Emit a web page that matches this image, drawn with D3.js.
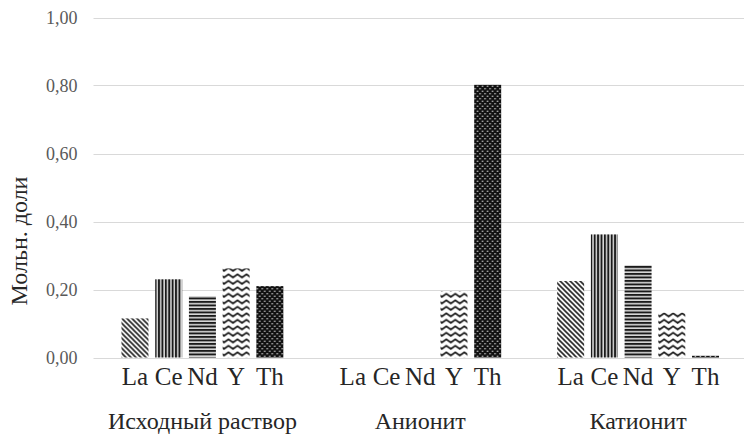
<!DOCTYPE html>
<html>
<head>
<meta charset="utf-8">
<script src="https://cdn.jsdelivr.net/npm/d3@7"></script>
<style>
  html, body { margin: 0; padding: 0; background: #fff; }
  svg { display: block; }
  svg text { font-family: "Liberation Serif", "Times New Roman", Tinos, "DejaVu Serif", serif; fill: #262626; }
</style>
</head>
<body>
<svg id="chart" width="744" height="439"></svg>
<script>
// Molar fractions of rare-earth elements and thorium
const groups = ["Исходный раствор", "Анионит", "Катионит"];
const elements = ["La", "Ce", "Nd", "Y", "Th"];
const valuesLa = [0.115, 0, 0.225];
const valuesCe = [0.23, 0, 0.362];
const valuesNd = [0.18, 0, 0.272];
const valuesY  = [0.262, 0.195, 0.132];
const valuesTh = [0.21, 0.802, 0.005];
const yTicks = [0, 0.2, 0.4, 0.6, 0.8, 1.0];
const yTitle = "Мольн. доли";

const seriesValues = { La: valuesLa, Ce: valuesCe, Nd: valuesNd, Y: valuesY, Th: valuesTh };

const svg = d3.select("#chart");
const plot = { left: 93.5, right: 747, top: 17.5, bottom: 357.5 };
const serif = "'Liberation Serif', 'Times New Roman', Tinos, 'DejaVu Serif', serif";

const x0 = d3.scaleBand().domain(groups).range([plot.left, plot.right]).padding(0);
const x1 = d3.scaleBand().domain(elements).range([0, x0.bandwidth()])
  .paddingInner(0.2).paddingOuter(0.83);
const y = d3.scaleLinear().domain([0, 1]).range([plot.bottom, plot.top]);

const ruLocale = d3.formatLocale({ decimal: ",", thousands: " ", grouping: [3], currency: ["", ""] });
const fmt = ruLocale.format(".2f");

// Fill patterns, one per element
const defs = svg.append("defs");

// La: downward diagonal hatch
const pLa = defs.append("pattern").attr("id", "pat-La").attr("patternUnits", "userSpaceOnUse")
  .attr("width", 5).attr("height", 5);
pLa.append("rect").attr("width", 5).attr("height", 5).attr("fill", "#fff");
pLa.append("path").attr("d", "M-1,-1 L6,6 M-1,4 L1,6 M4,-1 L6,1")
  .attr("stroke", "#222").attr("stroke-width", 1.6);

// Ce: vertical stripes
const pCe = defs.append("pattern").attr("id", "pat-Ce").attr("patternUnits", "userSpaceOnUse")
  .attr("width", 3.4).attr("height", 4);
pCe.append("rect").attr("width", 3.4).attr("height", 4).attr("fill", "#d8d8d8");
pCe.append("rect").attr("width", 1.9).attr("height", 4).attr("fill", "#1a1a1a");

// Nd: horizontal stripes
const pNd = defs.append("pattern").attr("id", "pat-Nd").attr("patternUnits", "userSpaceOnUse")
  .attr("width", 4).attr("height", 3.5);
pNd.append("rect").attr("width", 4).attr("height", 3.5).attr("fill", "#d8d8d8");
pNd.append("rect").attr("width", 4).attr("height", 1.9).attr("fill", "#1a1a1a");

// Y: zigzag waves
const pY = defs.append("pattern").attr("id", "pat-Y").attr("patternUnits", "userSpaceOnUse")
  .attr("width", 9).attr("height", 6.5);
pY.append("rect").attr("width", 9).attr("height", 6.5).attr("fill", "#fff");
pY.append("path").attr("d", "M-2.25,3.25 L0,1.25 L4.5,4.5 L9,1.25 L11.25,3.25")
  .attr("fill", "none").attr("stroke", "#1a1a1a").attr("stroke-width", 1.7);

// Th: black with white dots
const pTh = defs.append("pattern").attr("id", "pat-Th").attr("patternUnits", "userSpaceOnUse")
  .attr("width", 5).attr("height", 5);
pTh.append("rect").attr("width", 5).attr("height", 5).attr("fill", "#111");
pTh.append("circle").attr("cx", 1.25).attr("cy", 1.25).attr("r", 0.75).attr("fill", "#e8e8e8");
pTh.append("circle").attr("cx", 3.75).attr("cy", 3.75).attr("r", 0.75).attr("fill", "#e8e8e8");

// Gridlines
svg.append("g").selectAll("line").data(yTicks).join("line")
  .attr("x1", plot.left).attr("x2", plot.right)
  .attr("y1", d => Math.round(y(d)) + 0.5).attr("y2", d => Math.round(y(d)) + 0.5)
  .attr("stroke", "#d9d9d9").attr("stroke-width", 1);

// Y axis tick labels
const yAxis = d3.axisLeft(y).tickValues(yTicks).tickFormat(fmt).tickSize(0).tickPadding(0);
const gy = svg.append("g").attr("transform", `translate(${plot.left - 16},0)`).call(yAxis);
gy.attr("font-family", null);
gy.select(".domain").remove();
gy.selectAll("text").attr("font-size", 18).style("fill", "#595959")
  .style("font-family", serif);

// Bars
const gGroups = svg.append("g").selectAll("g").data(groups).join("g")
  .attr("transform", d => `translate(${x0(d)},0)`);

gGroups.selectAll("rect")
  .data((g, gi) => elements.map(el => ({ el, value: seriesValues[el][gi] })))
  .join("rect")
  .attr("x", d => x1(d.el))
  .attr("width", x1.bandwidth())
  .attr("y", d => y(d.value))
  .attr("height", d => y(0) - y(d.value))
  .attr("fill", d => `url(#pat-${d.el})`);

// Element labels below each bar
gGroups.selectAll("text.el")
  .data(elements).join("text")
  .attr("class", "el")
  .attr("x", d => x1(d) + x1.bandwidth() / 2)
  .attr("y", 385)
  .attr("text-anchor", "middle")
  .attr("font-size", 25)
  .style("font-family", serif)
  .text(d => d);

// Group labels
svg.append("g").selectAll("text").data(groups).join("text")
  .attr("x", d => x0(d) + x0.bandwidth() / 2)
  .attr("y", 429)
  .attr("text-anchor", "middle")
  .attr("font-size", 24)
  .style("font-family", serif)
  .text(d => d);

// Y axis title
svg.append("text")
  .attr("transform", "translate(27,241) rotate(-90)")
  .attr("text-anchor", "middle")
  .attr("font-size", 24)
  .style("font-family", serif)
  .text(yTitle);
</script>
</body>
</html>
